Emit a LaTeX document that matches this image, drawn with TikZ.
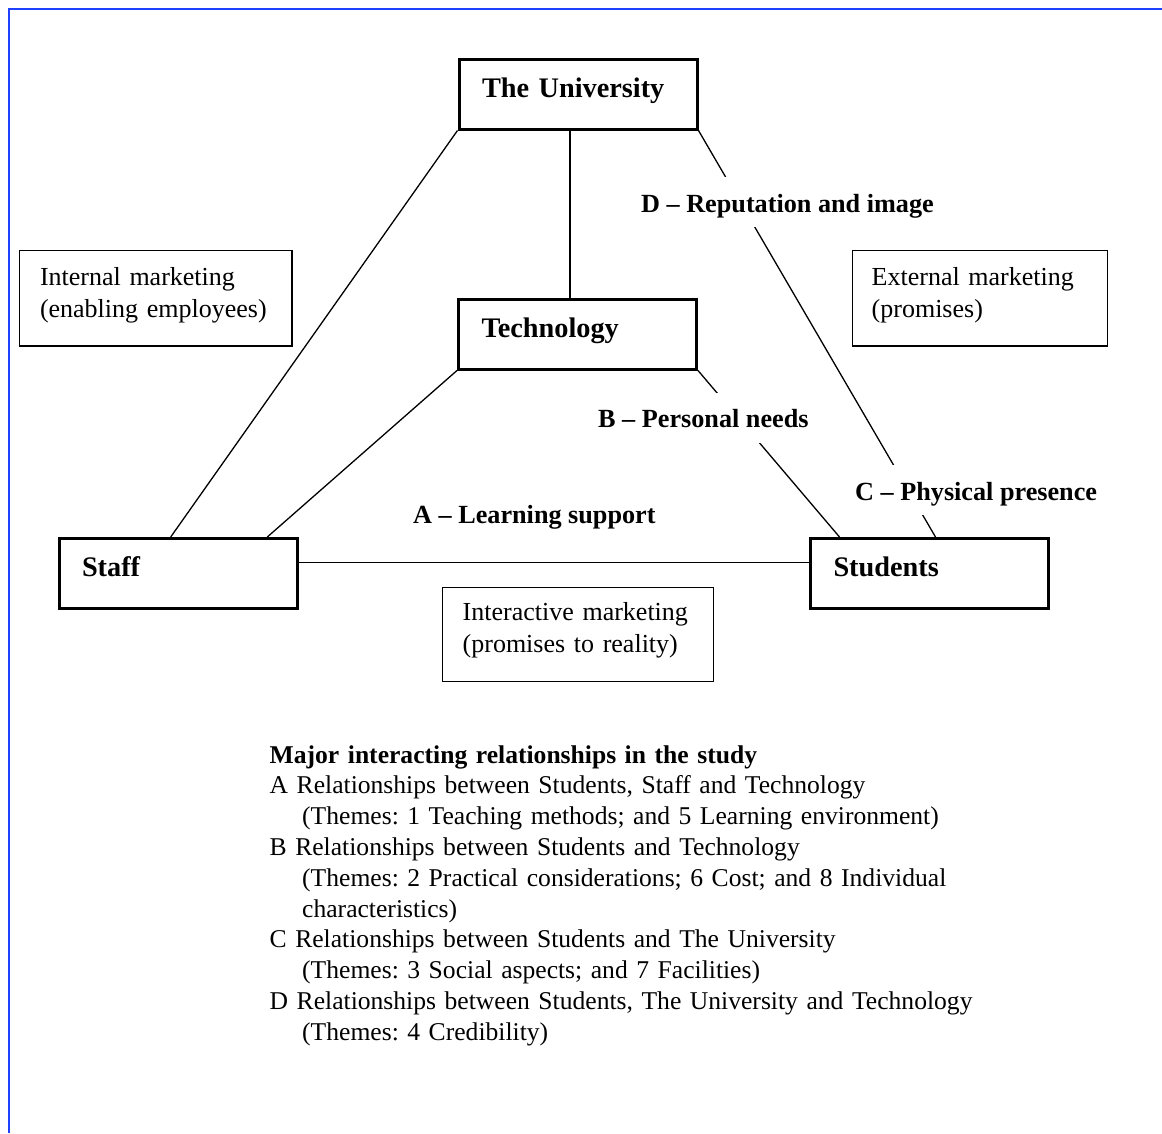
\documentclass[tikz,border=0pt]{standalone}
\usepackage{fontspec}
\setmainfont{Liberation Serif}
\definecolor{frameblue}{RGB}{32,64,255}
\frenchspacing
\begin{document}
\begin{tikzpicture}[x=1pt,y=-1pt,
  thickbox/.style={draw, line width=3pt, minimum width=238pt, minimum height=70pt,
    text width=192pt, inner xsep=23pt, inner ysep=0pt, align=left,
    text height=20pt, text depth=14pt, font=\fontsize{28.3}{34}\selectfont\bfseries},
  thinbox/.style={draw, line width=1.3pt, inner ysep=0pt, align=left,
    text height=10pt, font=\fontsize{26}{32}\selectfont},
  conn/.style={line width=1.3pt},
  lbl/.style={fill=white, inner xsep=2pt, inner ysep=0pt, text height=35pt, text depth=15pt,
    anchor=base west, font=\fontsize{26.2}{30}\selectfont\bfseries},
  legendtext/.style={anchor=base west, inner sep=0pt, text width=850pt, align=left,
    font=\fontsize{25.6}{30.8}\selectfont},
  frameline/.style={line width=2pt, draw=frameblue}
]
\useasboundingbox (0,0) rectangle (1162,1133);
\draw[frameline] (8.5,1133) -- (8.5,9) -- (1162,9);

% main boxes
\node[thickbox] (uni)   at (578,94)      {The University};
\node[thickbox] (tech)  at (577.5,334)   {Technology};
\node[thickbox] (staff) at (178,573.5)   {Staff};
\node[thickbox] (stu)   at (929.5,573.5) {Students};

% marketing boxes
\node[thinbox, minimum width=272.3pt, minimum height=95.3pt, text width=231.7pt,
      inner xsep=20.3pt, text depth=36.7pt] (internal) at (155.85,298.35)
      {Internal marketing\\(enabling employees)};
\node[thinbox, minimum width=255pt, minimum height=95.3pt, text width=216.6pt,
      inner xsep=19.2pt, text depth=36.7pt] (external) at (980,298.35)
      {External marketing\\(promises)};
\node[thinbox, minimum width=270.7pt, minimum height=93.7pt, text width=230.3pt,
      inner xsep=20.2pt, text depth=38.7pt] (interactive) at (577.85,634.35)
      {Interactive marketing\\(promises to reality)};

% connectors
\draw[conn] (uni.south west) -- ([xshift=113.2pt]staff.north west);
\draw[conn] ([xshift=-8pt]uni.south) -- ([xshift=-7.5pt]tech.north);
\draw[conn] (tech.south west) -- ([xshift=209.8pt]staff.north west);
\draw[conn] (tech.south east) -- ([xshift=30.5pt]stu.north west);
\draw[conn] (uni.south east) -- ([xshift=126.5pt]stu.north west);
\draw[conn] ([yshift=11pt]staff.east) -- ([yshift=11pt]stu.west);

% labels
\node[lbl] (labD) at (639,212)   {D – Reputation and image};
\node[lbl] (labB) at (596,427.7) {B – Personal needs};
\node[lbl] (labC) at (853,500)   {C – Physical presence};
\node[lbl] (labA) at (411,523.3) {A – Learning support};

% legend
\node[legendtext] (legend) at (269.5,763) {\textbf{Major interacting relationships in the study}\\
A Relationships between Students, Staff and Technology\\
\hspace*{32.5pt}(Themes: 1 Teaching methods; and 5 Learning environment)\\
B Relationships between Students and Technology\\
\hspace*{32.5pt}(Themes: 2 Practical considerations; 6 Cost; and 8 Individual\\
\hspace*{32.5pt}characteristics)\\
C Relationships between Students and The University\\
\hspace*{32.5pt}(Themes: 3 Social aspects; and 7 Facilities)\\
D Relationships between Students, The University and Technology\\
\hspace*{32.5pt}(Themes: 4 Credibility)};
\end{tikzpicture}
\end{document}
